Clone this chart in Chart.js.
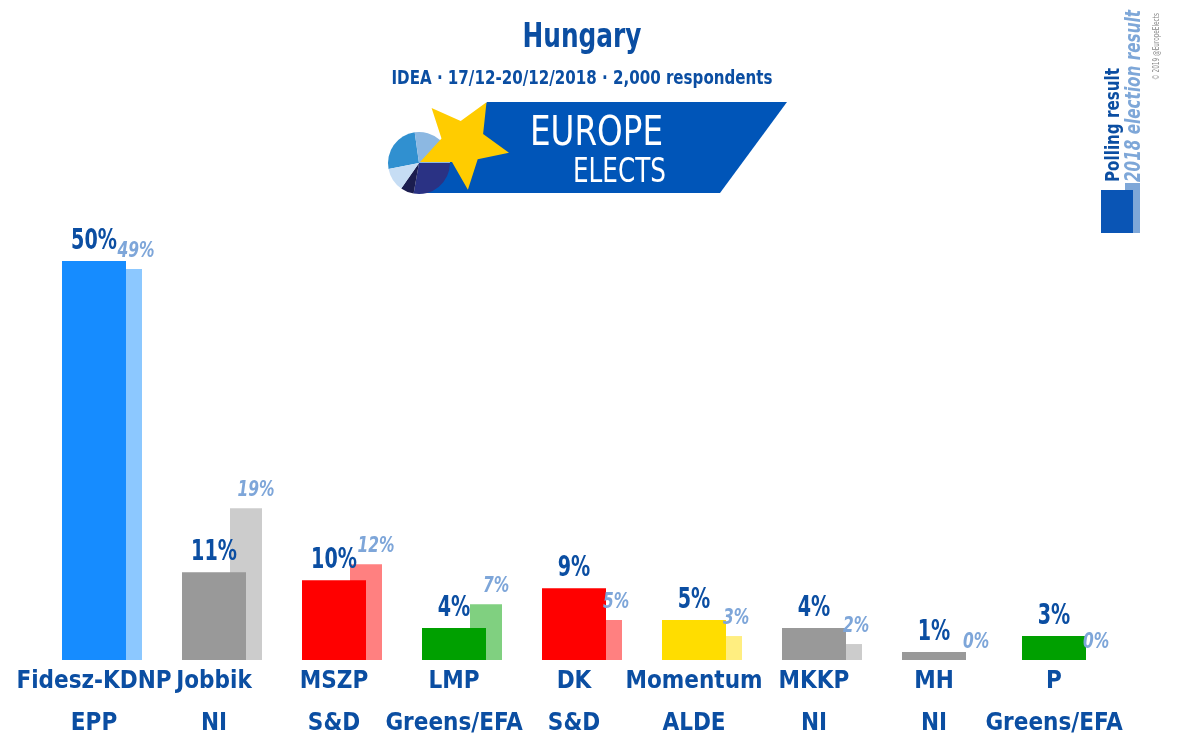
<!DOCTYPE html>
<html>
<head>
<meta charset="utf-8">
<title>Hungary poll</title>
<script src="https://cdn.jsdelivr.net/npm/chart.js@4.4.1/dist/chart.umd.min.js"></script>
<style>
  html, body { margin: 0; padding: 0; background: #fff; }
  #wrap { position: relative; width: 1186px; height: 753px; overflow: hidden; }
  #wrap canvas { position: absolute; left: 0; top: 0; }
  #deco { position: absolute; left: 0; top: 0; pointer-events: none; }
  #deco text { font-family: 'DejaVu Sans Condensed', 'Liberation Sans Narrow', 'Liberation Sans', sans-serif; }
</style>
</head>
<body>
<div id="wrap">
  <canvas id="pollChart" width="1186" height="753"></canvas>
  <svg id="deco" width="1186" height="753" xmlns="http://www.w3.org/2000/svg">
    <text x="582" y="47" text-anchor="middle" font-size="34" font-weight="bold" fill="#0b4ea2" textLength="119" lengthAdjust="spacingAndGlyphs">Hungary</text>
    <text x="582" y="84" text-anchor="middle" font-size="19" font-weight="bold" fill="#0b4ea2" textLength="381" lengthAdjust="spacingAndGlyphs">IDEA · 17/12-20/12/2018 · 2,000 respondents</text>

    <!-- logo -->
    <polygon points="487,102 787,102 720,193 420,193" fill="#0055b8"/>
    <g id="pie"></g>
    <path id="star" fill="#ffcc00"/>
    <text x="530" y="145" font-size="41" fill="#fff" textLength="133" lengthAdjust="spacingAndGlyphs">EUROPE</text>
    <text x="573" y="182" font-size="33" fill="#fff" textLength="93" lengthAdjust="spacingAndGlyphs">ELECTS</text>

    <!-- legend -->
    <rect x="1125" y="183" width="15" height="50" fill="#7ea7d8"/>
    <rect x="1101" y="190" width="32" height="43" fill="#0a55b5"/>
    <text transform="translate(1119,182) rotate(-90)" font-size="19" font-weight="bold" fill="#0b4ea2" textLength="114" lengthAdjust="spacingAndGlyphs">Polling result</text>
    <text transform="translate(1140,182) rotate(-90)" font-size="22" font-weight="bold" font-style="italic" fill="#7ea7d8" textLength="172" lengthAdjust="spacingAndGlyphs">2018 election result</text>
    <text transform="translate(1159,80) rotate(-90)" font-size="8" fill="#888" textLength="67" lengthAdjust="spacingAndGlyphs">© 2019 @EuropeElects</text>
  </svg>
</div>
<script>
const FONT = "'DejaVu Sans Condensed', 'Liberation Sans Narrow', 'Liberation Sans', sans-serif";

// data
const parties = ['Fidesz-KDNP', 'Jobbik', 'MSZP', 'LMP', 'DK', 'Momentum', 'MKKP', 'MH', 'P'];
const groups = ['EPP', 'NI', 'S&D', 'Greens/EFA', 'S&D', 'ALDE', 'NI', 'NI', 'Greens/EFA'];
const pollValues = [50, 11, 10, 4, 9, 5, 4, 1, 3];
const electionValues = [49, 19, 12, 7, 5, 3, 2, 0, 0];

const pollColors = ['#168cff', '#999999', '#ff0000', '#00a000', '#ff0000', '#ffdd00', '#999999', '#999999', '#00a000'];
const electionColors = ['#8cc8ff', '#cccccc', '#ff8080', '#80d080', '#ff8080', '#ffee80', '#cccccc', '#cccccc', '#80d080'];

// logo pie + star
const NS = 'http://www.w3.org/2000/svg';
const pieSlices = [
    [259, 352, '#3090d0'],
    [352, 450, '#8cb8e2'],
    [90, 190, '#2a3284'],
    [190, 215, '#1b1d4f'],
    [215, 259, '#c6ddf4']
];
const pc = { x: 419, y: 163, r: 31 };
function pt(cx, cy, r, deg) {
    const a = deg * Math.PI / 180;
    return [cx + r * Math.sin(a), cy - r * Math.cos(a)];
}
pieSlices.forEach(s => {
    const p1 = pt(pc.x, pc.y, pc.r, s[0]);
    const p2 = pt(pc.x, pc.y, pc.r, s[1]);
    const large = (s[1] - s[0]) > 180 ? 1 : 0;
    const path = document.createElementNS(NS, 'path');
    path.setAttribute('d', `M${pc.x},${pc.y} L${p1[0]},${p1[1]} A${pc.r},${pc.r} 0 ${large} 1 ${p2[0]},${p2[1]} Z`);
    path.setAttribute('fill', s[2]);
    document.getElementById('pie').appendChild(path);
});
let starD = '';
for (let k = 0; k < 10; k++) {
    const r = k % 2 === 0 ? 47 : 22;
    const p = pt(463, 143, r, 30 + k * 36);
    starD += (k === 0 ? 'M' : 'L') + p[0].toFixed(1) + ',' + p[1].toFixed(1) + ' ';
}
document.getElementById('star').setAttribute('d', starD + 'Z');

// value labels above the bars (squeezed a bit, the original font is narrow)
function squeezedText(ctx, txt, x, y, sx) {
    ctx.save();
    ctx.translate(x, y);
    ctx.scale(sx, 1);
    ctx.fillText(txt, 0, 0);
    ctx.restore();
}
const valueLabels = {
    id: 'valueLabels',
    afterDatasetsDraw(chart) {
        const ctx = chart.ctx;
        ctx.save();
        ctx.textAlign = 'center';
        ctx.textBaseline = 'alphabetic';
        [1, 0].forEach(di => {
            const ds = chart.data.datasets[di];
            chart.getDatasetMeta(di).data.forEach((bar, i) => {
                const txt = ds.data[i] + '%';
                if (di === 0) {
                    ctx.font = 'bold 28px ' + FONT;
                    ctx.fillStyle = '#0b4ea2';
                    squeezedText(ctx, txt, bar.x, bar.y - 12, 0.76);
                } else {
                    ctx.font = 'italic bold 22px ' + FONT;
                    ctx.fillStyle = '#7ea6d9';
                    squeezedText(ctx, txt, bar.x + 10, bar.y - 12, 0.78);
                }
            });
        });
        ctx.restore();
    }
};

const ctx = document.getElementById('pollChart').getContext('2d');
const chart = new Chart(ctx, {
    type: 'bar',
    data: {
        labels: parties,
        datasets: [{
            label: 'Polling result',
            data: pollValues,
            backgroundColor: pollColors,
            barPercentage: 2.0
        }, {
            label: '2018 election result',
            data: electionValues,
            backgroundColor: electionColors,
            barPercentage: 1.0
        }]
    },
    options: {
        responsive: false,
        animation: false,
        datasets: {
            bar: { categoryPercentage: 64 / 120 }
        },
        layout: {
            padding: { left: 50, right: 56, top: 221, bottom: 7 }
        },
        plugins: {
            legend: { display: false },
            tooltip: { enabled: false }
        },
        scales: {
            x: {
                grid: { display: false, drawTicks: false },
                border: { display: false },
                ticks: {
                    autoSkip: false,
                    maxRotation: 0,
                    padding: 1,
                    labelOffset: -16,
                    color: '#0b4ea2',
                    font: { family: FONT, size: 24, weight: 'bold', lineHeight: '42px' },
                    callback: (v, i) => [parties[i], groups[i]]
                }
            },
            y: {
                display: false,
                min: 0,
                max: 55
            }
        }
    },
    plugins: [valueLabels]
});
</script>
</body>
</html>
